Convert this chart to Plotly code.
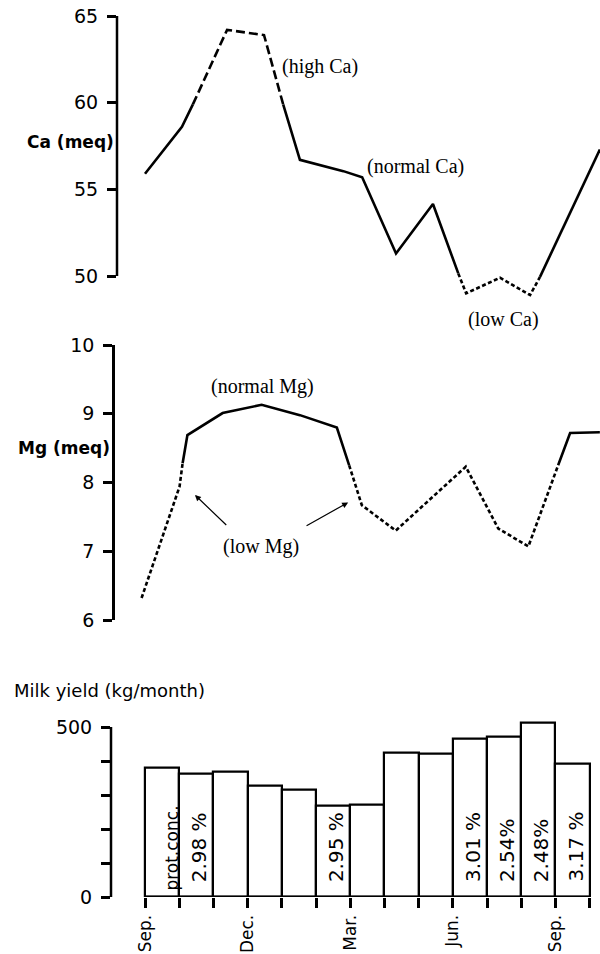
import plotly.graph_objects as go

# ---------------- data ----------------
# month index: 0 = start of September (first year), 1 = start of October, ...
ca_month = [0.00, 1.08, 1.40, 2.40, 3.48, 4.04, 4.53, 5.80, 6.35, 7.34, 8.42,
            9.16, 9.39, 10.38, 11.26, 11.55, 13.30]
ca_value = [55.9, 58.6, 59.9, 64.2, 63.9, 59.9, 56.7, 56.05, 55.7, 51.3, 54.15,
            50.15, 49.0, 49.9, 48.9, 49.95, 57.3]
ca_segments = [(0, 2, "solid"), (2, 5, "dash"), (5, 11, "solid"),
               (11, 15, "dot"), (15, 16, "solid")]

mg_month = [-0.10, 1.01, 1.10, 1.24, 2.27, 3.41, 4.53, 5.61, 5.97, 6.34, 7.33,
            9.38, 10.33, 11.21, 12.08, 12.43, 13.30]
mg_value = [6.32, 7.94, 8.28, 8.69, 9.01, 9.13, 8.98, 8.80, 8.25, 7.67, 7.30,
            8.23, 7.33, 7.07, 8.25, 8.72, 8.73]
mg_segments = [(0, 2, "dot"), (2, 8, "solid"), (8, 14, "dot"), (14, 16, "solid")]

milk_yield = [380, 363, 368, 326, 315, 268, 272, 425, 420, 465, 470, 513, 391]
prot_labels = ["prot.conc.", "2.98 %", "", "", "", "2.95 %", "", "", "",
               "3.01 %", "2.54%", "2.48%", "3.17 %"]
month_ticks = list(range(14))
month_ticktext = ["Sep.", "", "", "Dec.", "", "", "Mar.", "", "", "Jun.", "", "", "Sep.", ""]

ca_ticks = [50, 55, 60, 65]
mg_ticks = [6, 7, 8, 9, 10]
milk_ticks = [0, 100, 200, 300, 400, 500]
milk_ticktext = ["0", "", "", "", "", "500"]

# ---------------- layout geometry ----------------
W, H = 600, 954
X0_PX, MONTH_PX = 145.0, 34.2


def fy(p):
    return 1 - p / H


def xrange_from(axis_px):
    return [(axis_px - X0_PX) / MONTH_PX, (W - X0_PX) / MONTH_PX]


DASHES = {"solid": "solid", "dash": "9px,4px", "dot": "4px,2.5px"}
LW = 2.6

fig = go.Figure()


def add_segments(months, values, segments, xa, ya):
    for a, b, style in segments:
        fig.add_trace(go.Scatter(
            x=months[a:b + 1], y=values[a:b + 1], mode="lines",
            line=dict(color="black", width=LW, dash=DASHES[style]),
            xaxis=xa, yaxis=ya, hoverinfo="skip"))


add_segments(ca_month, ca_value, ca_segments, "x", "y")
add_segments(mg_month, mg_value, mg_segments, "x2", "y2")

fig.add_trace(go.Bar(
    x=[i + 0.5 for i in range(len(milk_yield))], y=milk_yield, width=1,
    marker=dict(color="white", line=dict(color="black", width=2.2)),
    xaxis="x3", yaxis="y3", hoverinfo="skip"))

tickfont = dict(family="DejaVu Sans", size=19, color="black")
yax_common = dict(showgrid=False, zeroline=False, ticks="outside", ticklen=9,
                  tickwidth=2.5, tickcolor="black", tickfont=tickfont,
                  ticklabelstandoff=5, automargin=False)

# Ca panel: 65 at y=16px, 50 at y=276px
ca_ppu = (276 - 16) / 15
ca_top, ca_bot = 8, 332
fig.update_layout(
    xaxis=dict(domain=[117 / W, 1], range=xrange_from(117), visible=False, anchor="y",
               automargin=False),
    yaxis=dict(domain=[fy(ca_bot), fy(ca_top)],
               range=[65 - (ca_bot - 16) / ca_ppu, 65 + (16 - ca_top) / ca_ppu],
               tickvals=ca_ticks, showline=False, anchor="x", **yax_common),
    xaxis2=dict(domain=[115 / W, 1], range=xrange_from(115), visible=False, anchor="y2",
                automargin=False),
    yaxis2=dict(domain=[fy(620), fy(345)], range=[6, 10], tickvals=mg_ticks,
                showline=True, linewidth=2.5, linecolor="black", anchor="x2", **yax_common),
    xaxis3=dict(domain=[111 / W, 1], range=xrange_from(111), tickvals=month_ticks,
                ticktext=month_ticktext, tickangle=-90, ticks="outside", ticklen=10,
                tickwidth=2.5, tickcolor="black", showgrid=False, zeroline=False,
                showline=False, anchor="y3", automargin=False,
                tickfont=dict(family="DejaVu Sans", size=17, color="black")),
    yaxis3=dict(domain=[fy(897), fy(897 - 530 * 0.34)], range=[0, 530],
                tickvals=milk_ticks, ticktext=milk_ticktext, showline=False,
                anchor="x3", **yax_common),
)

# axis lines limited to the labelled span
fig.add_shape(type="line", xref="x domain", yref="y", x0=0, x1=0, y0=50, y1=65,
              line=dict(color="black", width=2.5))
fig.add_shape(type="line", xref="x3 domain", yref="y3", x0=0, x1=0, y0=0, y1=500,
              line=dict(color="black", width=2.5))
fig.add_shape(type="line", xref="x3", yref="y3", x0=0, x1=len(milk_yield), y0=0, y1=0,
              line=dict(color="black", width=2.5))

# axis titles
title_font = dict(family="DejaVu Sans", size=17, color="black")
fig.add_annotation(text="<b>Ca (meq)</b>", xref="paper", yref="y", x=116 / W, y=57.75,
                   xanchor="right", yanchor="middle", showarrow=False, font=title_font)
fig.add_annotation(text="<b>Mg (meq)</b>", xref="paper", yref="y2", x=112 / W, y=8.5,
                   xanchor="right", yanchor="middle", showarrow=False, font=title_font)
fig.add_annotation(text="Milk yield (kg/month)", xref="paper", yref="paper", x=12 / W,
                   y=fy(690), xanchor="left", yanchor="middle", showarrow=False,
                   font=dict(family="DejaVu Sans", size=18, color="black"))

# serif notes
serif = dict(family="Liberation Serif", size=20, color="black")
notes = [("(high Ca)", 5.12, 62.06, "x", "y"),
         ("(normal Ca)", 7.92, 56.29, "x", "y"),
         ("(low Ca)", 10.47, 47.5, "x", "y"),
         ("(normal Mg)", 3.45, 9.39, "x2", "y2"),
         ("(low Mg)", 3.40, 7.07, "x2", "y2")]
for t, x, y, xr, yr in notes:
    fig.add_annotation(text=t, x=x, y=y, xref=xr, yref=yr, showarrow=False, font=serif)

# arrows pointing to the low-Mg parts
for hx, hy, tx, ty in [(1.46, 7.82, 2.42, 7.36), (5.94, 7.71, 4.68, 7.36)]:
    fig.add_annotation(text="", x=hx, y=hy, ax=tx, ay=ty, xref="x2", yref="y2",
                       axref="x2", ayref="y2", showarrow=True, arrowhead=2,
                       arrowsize=1, arrowwidth=1.2, arrowcolor="black")

# protein concentration labels inside bars
for i, lab in enumerate(prot_labels):
    if not lab:
        continue
    small = lab.startswith("prot")
    fig.add_annotation(text=lab, x=i + 0.5, y=0, xref="x3", yref="y3", textangle=-90,
                       xanchor="center", yanchor="bottom", showarrow=False,
                       xshift=9 if small else 3, yshift=4 if small else 13,
                       font=dict(family="DejaVu Sans", size=17 if small else 20,
                                 color="black"))

fig.update_layout(width=W, height=H,
                  margin=dict(l=0, r=0, t=0, b=0, pad=0, autoexpand=False),
                  plot_bgcolor="white", paper_bgcolor="white", showlegend=False,
                  bargap=0)

fig.write_html("out.html", config={"displayModeBar": False},
               post_script="document.body.style.margin='0px';"
                           "document.body.style.overflow='hidden';")
